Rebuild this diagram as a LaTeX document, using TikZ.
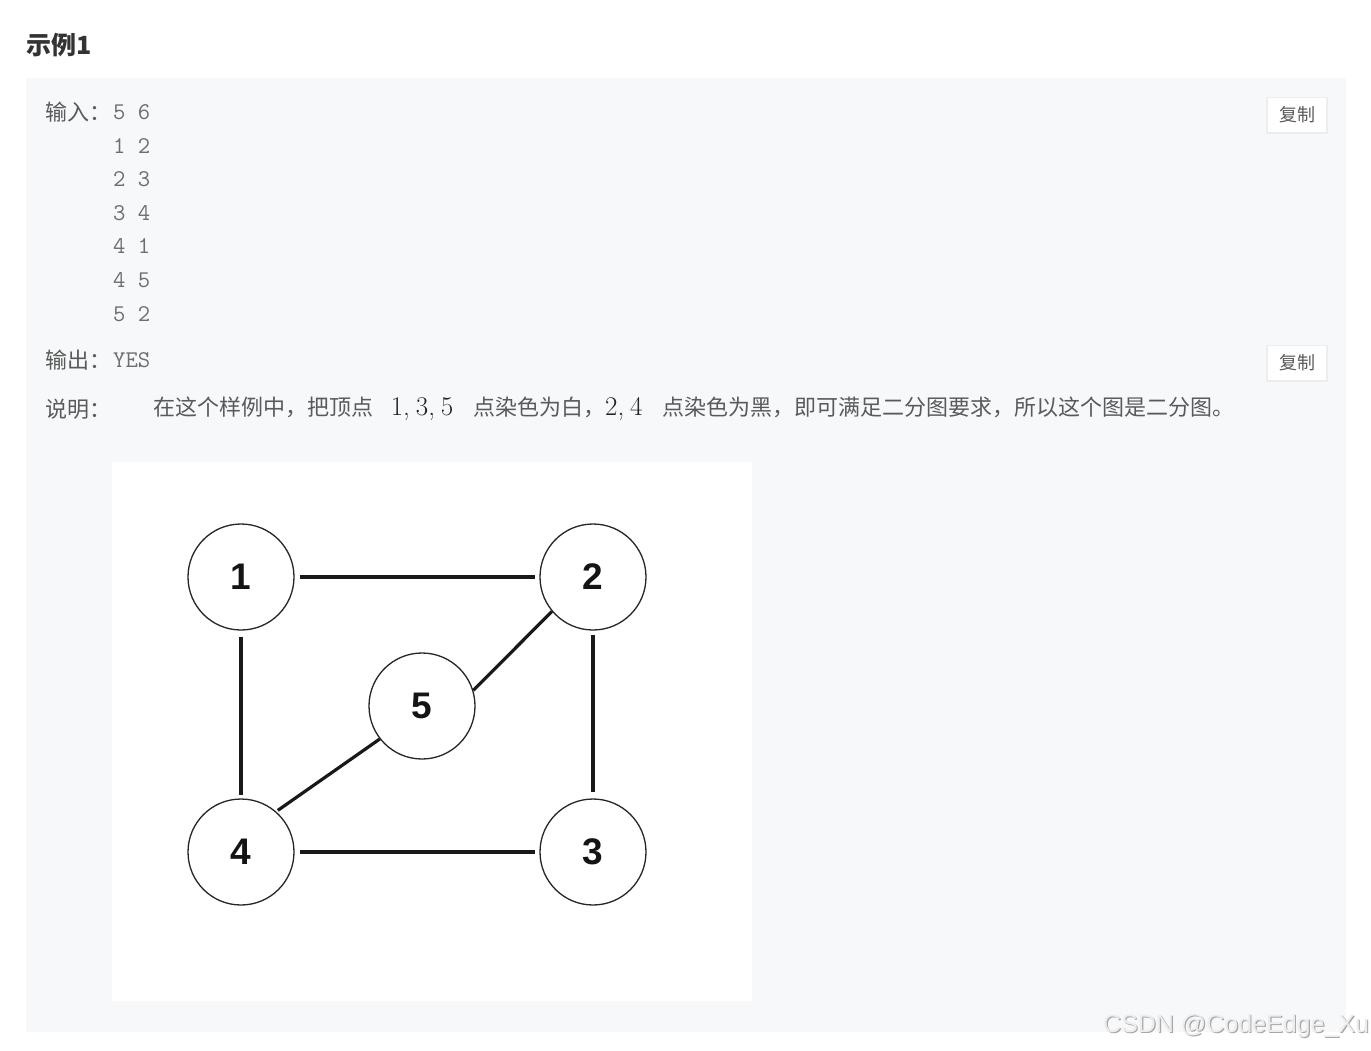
\documentclass[tikz,border=0pt]{standalone}
\usepackage{fontspec}
\newfontfamily\cjk{Noto Sans CJK SC}
\newfontfamily\gsans{Liberation Sans}
\definecolor{panelbg}{HTML}{F7F8FA}
\definecolor{titlec}{HTML}{333333}
\definecolor{labc}{HTML}{5A5A5A}
\definecolor{mathc}{HTML}{222222}
\definecolor{monoc}{HTML}{6E6E6E}
\definecolor{btnshadow}{HTML}{ECEDEF}
\definecolor{wmfront}{HTML}{EDEDED}
\definecolor{wmback}{HTML}{A8A8A8}
\tikzset{
  lab/.style={anchor=west, inner sep=0pt, text=labc, font=\cjk\fontsize{22}{26}\selectfont},
  monorow/.style={anchor=west, inner sep=0pt, text=monoc, font=\ttfamily\fontsize{24}{26}\selectfont},
  btn/.style={fill=white, draw=none, minimum width=58pt, minimum height=34pt, inner sep=0pt, text=labc, font=\cjk\fontsize{18}{20}\selectfont},
  vtx/.style={circle, draw=black!85, line width=1.3pt, minimum size=106pt, inner sep=0pt, fill=white, text=black!92, font=\gsans\bfseries\fontsize{37}{40}\selectfont},
  edge/.style={line width=3.2pt, black!90},
}
\newcommand{\mnum}[1]{{\rmfamily\color{mathc}\fontsize{27}{30}\selectfont #1}}
\newcommand{\tcomma}{,\kern0.22em}
\begin{document}
\begin{tikzpicture}[x=1pt,y=-1pt]
\useasboundingbox (0,0) rectangle (1371,1050);
\fill[white] (0,0) rectangle (1371,1050);
% title
\node[anchor=west, inner sep=0pt, text=titlec, font=\cjk\bfseries\fontsize{25}{28}\selectfont] (title) at (26,45) {示例1};
% panel
\fill[panelbg] (26,78) rectangle (1346,1032);
% input
\node[lab] (inlab) at (45,112) {输入：};
\node[monorow] (r0) at (113,112) {5 6};
\node[monorow] (r1) at (113,146) {1 2};
\node[monorow] (r2) at (113,179) {2 3};
\node[monorow] (r3) at (113,213) {3 4};
\node[monorow] (r4) at (113,246) {4 1};
\node[monorow] (r5) at (113,280) {4 5};
\node[monorow] (r6) at (113,314) {5 2};
% output
\node[lab] (outlab) at (45,360) {输出：};
\node[monorow] (outv) at (113,360) {YES};
% explanation
\node[lab] (desclab) at (45,409) {说明：};
\node[lab] (desc) at (153,409) {在这个样例中，把顶点\hspace{0.8em}\mnum{1\tcomma 3\tcomma 5}\hspace{0.9em}点染色为白，\mnum{2\tcomma 4}\hspace{0.9em}点染色为黑，即可满足二分图要求，所以这个图是二分图。};
% copy buttons
\fill[btnshadow] (1266,97) rectangle (1328,134);
\node[btn] (copy1) at (1297,114.5) {复制};
\fill[btnshadow] (1266,345) rectangle (1328,382);
\node[btn] (copy2) at (1297,362.5) {复制};
% graph image
\fill[white] (112,462) rectangle (752,1001);
\node[vtx] (n1) at (241,577) {1};
\node[vtx] (n2) at (593,577) {2};
\node[vtx] (n3) at (593,852) {3};
\node[vtx] (n4) at (241,852) {4};
\node[vtx] (n5) at (422,706) {5};
\draw[edge, shorten <=5pt, shorten >=4pt] (n1) -- (n2);
\draw[edge, shorten <=5pt, shorten >=4pt] (n4) -- (n3);
\draw[edge, shorten <=6pt, shorten >=3pt] (n1) -- (n4);
\draw[edge, shorten <=4pt, shorten >=6pt] (n2) -- (n3);
\draw[edge] (n5.17) -- (n2.220);
\draw[edge, shorten <=2pt] (n4.49) -- (n5.218);
% watermark
\node[anchor=west, inner sep=0pt, text=wmback, font=\gsans\fontsize{25}{28}\selectfont] (wmb) at (1104.2,1027.2) {CSDN @CodeEdge\_Xu};
\node[anchor=west, inner sep=0pt, text=wmfront, font=\gsans\fontsize{25}{28}\selectfont] (wm) at (1103,1026) {CSDN @CodeEdge\_Xu};
\end{tikzpicture}
\end{document}
